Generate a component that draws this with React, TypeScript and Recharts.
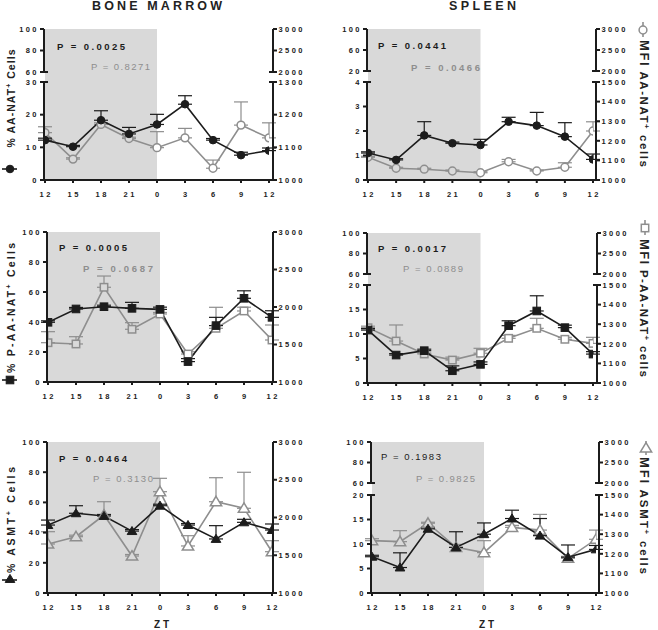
import React from 'react';
import { ComposedChart, Line, XAxis, YAxis, ReferenceArea, ErrorBar } from 'recharts';

const FONT = '"Liberation Sans", Arial, Helvetica, sans-serif';
const BLACK = '#1c1c1c';
const GRAY = '#8e8e8e';
const SHADE = '#d9d9d9';

// ZT positions (hours from start) and their tick labels
const ztValues = [0, 3, 6, 9, 12, 15, 18, 21, 24];
const ztLabels = ['12', '15', '18', '21', '0', '3', '6', '9', '12'];

// Bone marrow - AA-NAT
const bmAanatPct = [12.2, 10.2, 18.3, 14.1, 17.0, 23.2, 12.2, 7.6, 9.0];
const bmAanatPctErr = [0.6, 0.4, 2.9, 2.0, 3.1, 2.6, 0.5, 0.9, 0.8];
const bmAanatMfi = [1145, 1064, 1170, 1127, 1099, 1129, 1036, 1168, 1129];
const bmAanatMfiErr = [18, 4, 5, 4, 49, 29, 25, 71, 46];

// Spleen - AA-NAT
const spAanatPct = [1.1, 0.82, 1.82, 1.5, 1.43, 2.38, 2.22, 1.77, 0.84];
const spAanatPctErr = [0.05, 0.05, 0.56, 0.05, 0.23, 0.18, 0.54, 0.57, 0.22];
const spAanatMfi = [1116, 1060, 1055, 1046, 1037, 1093, 1046, 1065, 1250];
const spAanatMfiErr = [5, 5, 5, 5, 5, 12, 5, 23, 47];

// Bone marrow - P-AA-NAT
const bmPaanatPct = [39.8, 48.7, 50.2, 49.1, 48.4, 13.6, 37.6, 55.8, 43.1];
const bmPaanatPctErr = [1, 1, 1, 4, 1.5, 2, 5.5, 5, 4.4];
const bmPaanatMfi = [1524, 1507, 2263, 1703, 1907, 1373, 1716, 1947, 1560];
const bmPaanatMfiErr = [147, 97, 150, 88, 20, 30, 280, 50, 200];

// Spleen - P-AA-NAT
const spPaanatPct = [10.8, 5.7, 6.6, 2.5, 3.8, 11.7, 14.7, 11.3, 5.9];
const spPaanatPctErr = [0.3, 0.3, 0.3, 1.0, 0.5, 1.0, 3.1, 0.5, 0.5];
const spPaanatMfi = [1282, 1214, 1148, 1117, 1152, 1228, 1279, 1223, 1202];
const spPaanatMfiErr = [8, 82, 5, 15, 25, 15, 51, 10, 31];

// Bone marrow - ASMT
const bmAsmtPct = [45, 52.8, 51, 41, 57.8, 45, 35.8, 46.8, 41.7];
const bmAsmtPctErr = [3.3, 5, 1, 1, 1, 1, 8.8, 2, 4];
const bmAsmtMfi = [1649, 1746, 2033, 1490, 2342, 1623, 2209, 2122, 1547];
const bmAsmtMfiErr = [163, 20, 176, 20, 177, 136, 318, 477, 146];

// Spleen - ASMT
const spAsmtPct = [7.4, 5.2, 13.1, 9.3, 12.0, 15.2, 11.7, 7.3, 8.9];
const spAsmtPctErr = [0.3, 3.0, 0.3, 3.2, 2.3, 1.7, 3.5, 2.5, 0.8];
const spAsmtMfi = [1267, 1262, 1356, 1233, 1206, 1335, 1321, 1177, 1274];
const spAsmtMfiErr = [10, 56, 5, 15, 61, 10, 80, 10, 47];

type Row = { zt: number; pct: number; pctErr: number[]; mfi: number; mfiErr: number[] };

function buildRows(pct: number[], pctErr: number[], mfi: number[], mfiErr: number[]): Row[] {
  return ztValues.map((zt, i) => ({
    zt,
    pct: pct[i],
    pctErr: [0, pctErr[i]],
    mfi: mfi[i],
    mfiErr: [0, mfiErr[i]],
  }));
}

type Shape = 'circle' | 'square' | 'triangle';

function makeDot(shape: Shape, filled: boolean, color: string) {
  return (p: any) => {
    const { cx, cy, index, payload } = p;
    if (cx == null || cy == null) return <g key={`d${index}`} />;
    const bg = payload && payload.zt < 12 ? SHADE : '#ffffff';
    const fill = filled ? color : bg;
    const sw = filled ? 1 : 1.5;
    if (shape === 'circle') {
      return <circle key={`d${index}`} cx={cx} cy={cy} r={filled ? 3.8 : 3.9} fill={fill} stroke={color} strokeWidth={sw} />;
    }
    if (shape === 'square') {
      const h = filled ? 3.8 : 3.7;
      return <rect key={`d${index}`} x={cx - h} y={cy - h} width={2 * h} height={2 * h} fill={fill} stroke={color} strokeWidth={sw} />;
    }
    const s = filled ? 4.6 : 5.4;
    return (
      <polygon
        key={`d${index}`}
        points={`${cx},${cy - s} ${cx + s * 1.05},${cy + s * 0.75} ${cx - s * 1.05},${cy + s * 0.75}`}
        fill={fill}
        stroke={color}
        strokeWidth={sw}
        strokeLinejoin="miter"
      />
    );
  };
}

const TICK_FS = 7.5;
const TICK_LS = 2.4;

const leftTick = (caps: number[]) => (props: any) => {
  const { x, y, payload } = props;
  const v = payload.value;
  const both = caps.includes(v);
  return (
    <g>
      <line x1={x - 4} x2={both ? x + 4 : x} y1={y} y2={y} stroke={BLACK} strokeWidth={2} />
      <text x={x - 7.5 + TICK_LS} y={y} dy="0.36em" textAnchor="end" fontFamily={FONT} fontSize={TICK_FS} fontWeight={700} letterSpacing={TICK_LS} fill="#222">
        {v}
      </text>
    </g>
  );
};

const rightTick = (caps: number[]) => (props: any) => {
  const { x, y, payload } = props;
  const v = payload.value;
  const both = caps.includes(v);
  return (
    <g>
      <line x1={both ? x - 4 : x} x2={x + 4} y1={y} y2={y} stroke={BLACK} strokeWidth={2} />
      <text x={x + 5.5} y={y} dy="0.36em" textAnchor="start" fontFamily={FONT} fontSize={TICK_FS} fontWeight={700} letterSpacing={TICK_LS} fill="#222">
        {v}
      </text>
    </g>
  );
};

const bottomTick = (props: any) => {
  const { x, y, payload } = props;
  const idx = ztValues.indexOf(payload.value);
  return (
    <g>
      <line x1={x} x2={x} y1={y} y2={y + 3} stroke={BLACK} strokeWidth={2} />
      <text x={x + TICK_LS / 2} y={y + 17} textAnchor="middle" fontFamily={FONT} fontSize={TICK_FS} fontWeight={700} letterSpacing={TICK_LS} fill="#222">
        {ztLabels[idx]}
      </text>
    </g>
  );
};

type Seg = {
  y0: number;
  y1: number;
  l: [number, number];
  lt: number[];
  r: [number, number];
  rt: number[];
  lcaps: number[];
  rcaps: number[];
};

type PanelSpec = {
  axisL: number;
  axisR: number;
  padL: number;
  padR: number;
  upper?: Seg;
  lower: Seg;
  rows: Row[];
  shape: Shape;
};

const LW = 40;
const RW = 44;
const AXIS_LINE = { stroke: BLACK, strokeWidth: 2 };

function UpperChart({ p }: { p: PanelSpec }) {
  const s = p.upper as Seg;
  const gap = p.lower.y0 - s.y1;
  const plotH = s.y1 - s.y0;
  const unit = (s.l[1] - s.l[0]) / plotH;
  const MT = 8;
  const MB = gap + 2;
  const width = LW + (p.axisR - p.axisL) + RW;
  return (
    <div style={{ position: 'absolute', left: p.axisL - LW, top: s.y0 - MT }}>
      <ComposedChart width={width} height={MT + plotH + MB} data={p.rows} margin={{ top: MT, right: 0, bottom: MB, left: 0 }}>
        <XAxis dataKey="zt" type="number" domain={[0, 24]} ticks={ztValues} padding={{ left: p.padL, right: p.padR }} hide allowDataOverflow />
        <YAxis yAxisId="l" orientation="left" width={LW} domain={s.l} ticks={s.lt} interval={0} allowDataOverflow tickSize={0} tickMargin={0} tickLine={false} axisLine={AXIS_LINE} tick={leftTick(s.lcaps)} />
        <YAxis yAxisId="r" orientation="right" width={RW} domain={s.r} ticks={s.rt} interval={0} allowDataOverflow tickSize={0} tickMargin={0} tickLine={false} axisLine={AXIS_LINE} tick={rightTick(s.rcaps)} />
        <ReferenceArea yAxisId="l" x1={0} x2={12} y1={s.l[0] - gap * unit} y2={s.l[1]} fill={SHADE} fillOpacity={1} stroke="none" ifOverflow="visible" />
      </ComposedChart>
    </div>
  );
}

function LowerChart({ p }: { p: PanelSpec }) {
  const s = p.lower;
  const MT = 8;
  const XH = 26;
  const plotH = s.y1 - s.y0;
  const width = LW + (p.axisR - p.axisL) + RW;
  return (
    <div style={{ position: 'absolute', left: p.axisL - LW, top: s.y0 - MT }}>
      <ComposedChart width={width} height={MT + plotH + XH} data={p.rows} margin={{ top: MT, right: 0, bottom: 0, left: 0 }}>
        <XAxis dataKey="zt" type="number" domain={[0, 24]} ticks={ztValues} interval={0} padding={{ left: p.padL, right: p.padR }} height={XH} tickSize={0} tickMargin={0} tickLine={false} axisLine={AXIS_LINE} tick={bottomTick} allowDataOverflow />
        <YAxis yAxisId="l" orientation="left" width={LW} domain={s.l} ticks={s.lt} interval={0} allowDataOverflow tickSize={0} tickMargin={0} tickLine={false} axisLine={AXIS_LINE} tick={leftTick(s.lcaps)} />
        <YAxis yAxisId="r" orientation="right" width={RW} domain={s.r} ticks={s.rt} interval={0} allowDataOverflow tickSize={0} tickMargin={0} tickLine={false} axisLine={AXIS_LINE} tick={rightTick(s.rcaps)} />
        <ReferenceArea yAxisId="l" x1={0} x2={12} y1={s.l[0]} y2={s.l[1]} fill={SHADE} fillOpacity={1} stroke="none" />
        <Line yAxisId="r" dataKey="mfi" stroke={GRAY} strokeWidth={1.6} dot={makeDot(p.shape, false, GRAY)} activeDot={false} isAnimationActive={false}>
          <ErrorBar dataKey="mfiErr" direction="y" width={7} stroke={GRAY} strokeWidth={1.2} />
        </Line>
        <Line yAxisId="l" dataKey="pct" stroke={BLACK} strokeWidth={1.6} dot={makeDot(p.shape, true, BLACK)} activeDot={false} isAnimationActive={false}>
          <ErrorBar dataKey="pctErr" direction="y" width={7} stroke={BLACK} strokeWidth={1.2} />
        </Line>
      </ComposedChart>
    </div>
  );
}

function Panel({ p }: { p: PanelSpec }) {
  return (
    <>
      {p.upper ? <UpperChart p={p} /> : null}
      <LowerChart p={p} />
    </>
  );
}

const panels: PanelSpec[] = [
  {
    axisL: 44, axisR: 273, padL: 1, padR: 4, shape: 'circle',
    rows: buildRows(bmAanatPct, bmAanatPctErr, bmAanatMfi, bmAanatMfiErr),
    upper: { y0: 29, y1: 72, l: [60, 100], lt: [60, 80, 100], r: [2000, 3000], rt: [2000, 2500, 3000], lcaps: [60], rcaps: [2000] },
    lower: { y0: 82, y1: 180, l: [0, 30], lt: [0, 10, 20, 30], r: [1000, 1300], rt: [1000, 1100, 1200, 1300], lcaps: [30], rcaps: [1300] },
  },
  {
    axisL: 367, axisR: 596, padL: 1, padR: 3, shape: 'circle',
    rows: buildRows(spAanatPct, spAanatPctErr, spAanatMfi, spAanatMfiErr),
    upper: { y0: 29, y1: 71, l: [20, 100], lt: [20, 60, 100], r: [2000, 3000], rt: [2000, 2500, 3000], lcaps: [20], rcaps: [2000] },
    lower: { y0: 82, y1: 180, l: [0, 4], lt: [0, 1, 2, 3, 4], r: [1000, 1500], rt: [1000, 1100, 1200, 1300, 1400, 1500], lcaps: [4], rcaps: [1500] },
  },
  {
    axisL: 47, axisR: 273, padL: 1, padR: 1, shape: 'square',
    rows: buildRows(bmPaanatPct, bmPaanatPctErr, bmPaanatMfi, bmPaanatMfiErr),
    lower: { y0: 232, y1: 382, l: [0, 100], lt: [0, 20, 40, 60, 80, 100], r: [1000, 3000], rt: [1000, 1500, 2000, 2500, 3000], lcaps: [], rcaps: [] },
  },
  {
    axisL: 367, axisR: 597, padL: 1, padR: 4, shape: 'square',
    rows: buildRows(spPaanatPct, spPaanatPctErr, spPaanatMfi, spPaanatMfiErr),
    upper: { y0: 233, y1: 274, l: [60, 100], lt: [60, 80, 100], r: [2000, 3000], rt: [2000, 2500, 3000], lcaps: [60], rcaps: [2000] },
    lower: { y0: 285, y1: 383, l: [0, 20], lt: [0, 5, 10, 15, 20], r: [1000, 1500], rt: [1000, 1100, 1200, 1300, 1400, 1500], lcaps: [20], rcaps: [1500] },
  },
  {
    axisL: 47, axisR: 273, padL: 1, padR: 1, shape: 'triangle',
    rows: buildRows(bmAsmtPct, bmAsmtPctErr, bmAsmtMfi, bmAsmtMfiErr),
    lower: { y0: 442, y1: 593, l: [0, 100], lt: [0, 20, 40, 60, 80, 100], r: [1000, 3000], rt: [1000, 1500, 2000, 2500, 3000], lcaps: [], rcaps: [] },
  },
  {
    axisL: 371, axisR: 599, padL: 1, padR: 3, shape: 'triangle',
    rows: buildRows(spAsmtPct, spAsmtPctErr, spAsmtMfi, spAsmtMfiErr),
    upper: { y0: 442, y1: 483, l: [60, 100], lt: [60, 80, 100], r: [2000, 3000], rt: [2000, 2500, 3000], lcaps: [60], rcaps: [2000] },
    lower: { y0: 495, y1: 593, l: [0, 20], lt: [0, 5, 10, 15, 20], r: [1000, 1500], rt: [1000, 1100, 1200, 1300, 1400, 1500], lcaps: [20], rcaps: [1500] },
  },
];

type PText = { x: number; y: number; t: string; len: number; color: string; bold: boolean };
const pValues: PText[] = [
  { x: 57, y: 49.5, t: 'P = 0.0025', len: 68, color: BLACK, bold: true },
  { x: 91, y: 69.5, t: 'P = 0.8271', len: 59, color: GRAY, bold: false },
  { x: 378, y: 49, t: 'P = 0.0441', len: 68, color: BLACK, bold: true },
  { x: 411, y: 70.5, t: 'P = 0.0466', len: 69, color: GRAY, bold: true },
  { x: 59, y: 250.5, t: 'P = 0.0005', len: 68, color: BLACK, bold: true },
  { x: 83, y: 271.5, t: 'P = 0.0687', len: 70, color: GRAY, bold: true },
  { x: 378, y: 251.5, t: 'P = 0.0017', len: 68, color: BLACK, bold: true },
  { x: 403, y: 271.5, t: 'P = 0.0889', len: 60, color: GRAY, bold: false },
  { x: 59, y: 461.5, t: 'P = 0.0464', len: 68, color: BLACK, bold: true },
  { x: 93, y: 481.5, t: 'P = 0.3130', len: 60, color: GRAY, bold: false },
  { x: 381, y: 459.5, t: 'P = 0.1983', len: 60, color: BLACK, bold: false },
  { x: 416, y: 481.5, t: 'P = 0.9825', len: 59, color: GRAY, bold: false },
];

function Marker({ shape, filled, color, cx, cy }: { shape: Shape; filled: boolean; color: string; cx: number; cy: number }) {
  const dot = makeDot(shape, filled, color);
  return dot({ cx, cy, index: 0, payload: { zt: 99 } });
}

function Overlay() {
  const labelProps = { fontFamily: FONT, fontWeight: 700, fill: '#222' } as const;
  return (
    <svg width={658} height={630} style={{ position: 'absolute', left: 0, top: 0, pointerEvents: 'none' }}>
      <text x={92} y={10} fontSize={12.5} textLength={130} lengthAdjust="spacing" {...labelProps}>BONE MARROW</text>
      <text x={449} y={10} fontSize={12.5} textLength={67} lengthAdjust="spacing" {...labelProps}>SPLEEN</text>

      {pValues.map((p, i) => (
        <text key={i} x={p.x} y={p.y} fontFamily={FONT} fontSize={9.5} fontWeight={p.bold ? 700 : 400} fill={p.color} textLength={p.len} lengthAdjust="spacing">
          {p.t}
        </text>
      ))}

      {/* left axis titles */}
      <text transform="translate(15,98.5) rotate(-90)" textAnchor="middle" fontSize={10.5} textLength={98} lengthAdjust="spacing" {...labelProps}>
        % AA-NAT<tspan dy={-4} fontSize={7}>+</tspan><tspan dy={4}> Cells</tspan>
      </text>
      <text transform="translate(15,308) rotate(-90)" textAnchor="middle" fontSize={10.5} textLength={130} lengthAdjust="spacing" {...labelProps}>
        % P-AA-NAT<tspan dy={-4} fontSize={7}>+</tspan><tspan dy={4}> Cells</tspan>
      </text>
      <text transform="translate(15,520) rotate(-90)" textAnchor="middle" fontSize={10.5} textLength={106} lengthAdjust="spacing" {...labelProps}>
        % ASMT<tspan dy={-4} fontSize={7}>+</tspan><tspan dy={4}> Cells</tspan>
      </text>
      <line x1={2} x2={17} y1={169} y2={169} stroke={BLACK} strokeWidth={1.6} />
      <Marker shape="circle" filled color={BLACK} cx={10} cy={169} />
      <line x1={2} x2={17} y1={380} y2={380} stroke={BLACK} strokeWidth={1.6} />
      <Marker shape="square" filled color={BLACK} cx={10} cy={380} />
      <line x1={2} x2={17} y1={580} y2={580} stroke={BLACK} strokeWidth={1.6} />
      <Marker shape="triangle" filled color={BLACK} cx={10} cy={579} />

      {/* right axis titles */}
      <text transform="translate(640,40) rotate(90)" textAnchor="start" fontSize={11.5} textLength={127} lengthAdjust="spacing" {...labelProps}>
        <tspan fontSize={13}>MFI</tspan> AA-NAT<tspan dy={-4} fontSize={8}>+</tspan><tspan dy={4}> cells</tspan>
      </text>
      <text transform="translate(640,239) rotate(90)" textAnchor="start" fontSize={11.5} textLength={138} lengthAdjust="spacing" {...labelProps}>
        <tspan fontSize={13}>MFI</tspan> P-AA-NAT<tspan dy={-4} fontSize={8}>+</tspan><tspan dy={4}> cells</tspan>
      </text>
      <text transform="translate(640,457) rotate(90)" textAnchor="start" fontSize={11.5} textLength={117} lengthAdjust="spacing" {...labelProps}>
        <tspan fontSize={13}>MFI</tspan> ASMT<tspan dy={-4} fontSize={8}>+</tspan><tspan dy={4}> cells</tspan>
      </text>
      <line x1={643} x2={643} y1={22} y2={37} stroke={GRAY} strokeWidth={1.6} />
      <Marker shape="circle" filled={false} color={GRAY} cx={643} cy={30} />
      <line x1={645} x2={645} y1={220} y2={235} stroke={GRAY} strokeWidth={1.6} />
      <Marker shape="square" filled={false} color={GRAY} cx={645} cy={228} />
      <line x1={646} x2={646} y1={441} y2={455} stroke={GRAY} strokeWidth={1.6} />
      <Marker shape="triangle" filled={false} color={GRAY} cx={646} cy={448} />

      <text x={163} y={628} textAnchor="middle" fontSize={10} letterSpacing={3} {...labelProps}>ZT</text>
      <text x={488} y={628} textAnchor="middle" fontSize={10} letterSpacing={3} {...labelProps}>ZT</text>
    </svg>
  );
}

export default function App() {
  return (
    <div style={{ position: 'absolute', left: 0, top: 0, width: 658, height: 630, background: '#ffffff', overflow: 'hidden', fontFamily: FONT }}>
      {panels.map((p, i) => (
        <Panel key={i} p={p} />
      ))}
      <Overlay />
    </div>
  );
}
